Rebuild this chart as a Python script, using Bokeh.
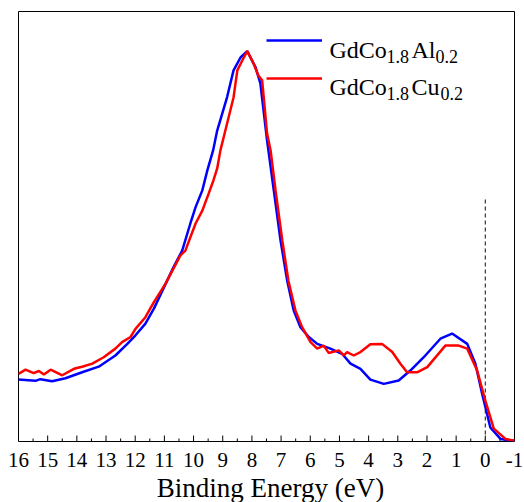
from bokeh.plotting import figure
from bokeh.models import Range1d, Legend, LegendItem, Label
from bokeh.layouts import column
from bokeh.embed import file_html
from bokeh.resources import INLINE

# Binding energy (eV) and intensity (a.u.)
al_energy = [16.0, 15.42, 15.25, 14.85, 14.39, 13.82, 13.25, 12.68, 12.27, 11.99, 11.65, 11.36,
             10.69, 10.39, 10.11, 9.93, 9.70, 9.53, 9.33, 9.19, 8.85, 8.63, 8.39, 8.16,
             7.88, 7.71, 7.48, 7.25, 7.02, 6.79, 6.57, 6.34, 6.05, 5.76, 5.31, 4.91, 4.62,
             4.28, 3.94, 3.48, 2.97, 2.57, 2.11, 1.54, 1.14, 0.62, 0.34, 0.11, -0.17, -0.52, -1.0]
al_intensity = [14.4, 14.1, 14.5, 14.0, 14.7, 16.1, 17.4, 20.0, 22.7, 24.7, 27.4, 30.9,
                40.5, 44.4, 50.7, 54.5, 58.4, 63.0, 67.7, 72.3, 80.1, 86.3, 89.3, 90.8,
                87.1, 83.3, 70.0, 58.4, 46.8, 37.4, 30.5, 26.6, 24.3, 22.7, 21.6, 20.4, 18.1,
                16.9, 14.4, 13.4, 14.2, 16.5, 19.6, 23.9, 25.1, 22.7, 18.1, 11.1, 3.3, 0.6, 0.1]

cu_energy = [16.0, 15.76, 15.48, 15.30, 15.13, 14.90, 14.50, 14.10, 13.82, 13.47, 13.08, 12.68,
             12.45, 12.16, 11.99, 11.65, 11.36, 10.96, 10.45, 10.28, 10.11, 9.93, 9.70, 9.48,
             9.32, 9.19, 9.08, 8.97, 8.63, 8.50, 8.33, 8.16, 7.95, 7.78, 7.65, 7.48, 7.36,
             7.19, 6.96, 6.75, 6.51, 6.28, 5.99, 5.76, 5.54, 5.37, 5.02, 4.85, 4.74, 4.51,
             4.28, 3.94, 3.54, 3.19, 2.91, 2.68, 2.34, 1.99, 1.37, 0.91, 0.62, 0.28, 0.0,
             -0.29, -0.69, -1.0]
cu_intensity = [15.7, 16.7, 15.9, 16.4, 15.6, 16.7, 15.4, 16.9, 17.4, 18.1, 19.6, 21.6,
                23.1, 24.3, 26.2, 28.9, 32.4, 36.7, 43.3, 44.4, 47.5, 50.7, 53.7, 57.7,
                60.7, 63.5, 67.7, 70.7, 80.0, 86.3, 88.6, 90.8, 88.0, 85.1, 84.0, 71.6, 67.7,
                58.4, 46.8, 37.4, 30.5, 26.6, 23.1, 21.6, 22.3, 20.6, 21.2, 20.0, 20.8, 20.0,
                20.8, 22.6, 22.7, 20.8, 18.1, 16.1, 16.1, 17.3, 22.3, 22.3, 21.6, 16.5, 9.5,
                3.0, 0.6, 0.2]

tick_values = list(range(16, -2, -1))
tick_labels = [str(v) for v in tick_values]   # plain hyphen for "-1"
minor_tick_values = [v - 0.5 for v in tick_values[:-1]]
x_title = "Binding Energy (eV)"

fermi_level = 0.0
fermi_line_top = 56.7

SERIF = "Liberation Serif"
X_START, X_END = 16, -1
Y_MAX = 100
LEFT, RIGHT, FRAME_W, FRAME_H = 18, 10, 496, 430
MAJOR_TICK_PX, MINOR_TICK_PX = 6, 3

# ---------------- main plot ----------------
p = figure(width=524, height=442, output_backend="svg", toolbar_location=None, title=None,
           x_range=Range1d(X_START, X_END), y_range=Range1d(0, Y_MAX),
           x_axis_location=None, y_axis_location=None,
           min_border_left=LEFT, min_border_right=RIGHT, min_border_top=11, min_border_bottom=1)
p.frame_align = False
p.background_fill_color = "white"
p.border_fill_color = "white"
p.outline_line_color = "black"
p.outline_line_width = 1
p.xgrid.visible = False
p.ygrid.visible = False

# inward tick marks at the energy ticks (major at integers, minor at halves)
px_to_y = Y_MAX / FRAME_H
p.segment(x0=tick_values, y0=[0] * len(tick_values), x1=tick_values,
          y1=[MAJOR_TICK_PX * px_to_y] * len(tick_values), line_color="black", line_width=1)
p.segment(x0=minor_tick_values, y0=[0] * len(minor_tick_values), x1=minor_tick_values,
          y1=[MINOR_TICK_PX * px_to_y] * len(minor_tick_values), line_color="black", line_width=1)

p.segment(x0=[fermi_level], y0=[0], x1=[fermi_level], y1=[fermi_line_top],
          line_color="#333333", line_width=1.2, line_dash="4 3")

r_al = p.line(al_energy, al_intensity, line_color="#0000FF", line_width=2.5)
r_cu = p.line(cu_energy, cu_intensity, line_color="#FF0000", line_width=2.5)

legend = Legend(items=[LegendItem(label=" ", renderers=[r_al]),
                       LegendItem(label=" ", renderers=[r_cu])],
                location=(248, 353), orientation="vertical",
                glyph_width=56, glyph_height=20, label_height=20, label_width=1,
                label_text_font_size="8px", label_standoff=0, spacing=18,
                padding=0, margin=0, border_line_color=None,
                background_fill_alpha=0)
p.add_layout(legend)

def add_text(fig, txt, x, y, size, align="left", x_units="screen"):
    fig.add_layout(Label(x=x, y=y, x_units=x_units, y_units="screen", text=txt,
                         text_font=SERIF, text_font_size=size, text_color="black",
                         text_baseline="alphabetic", text_align=align))

add_text(p, "GdCo", 311, 392, "24px")
add_text(p, "1.8", 368, 385, "18px")
add_text(p, "Al", 393, 392, "24px")
add_text(p, "0.2", 417, 385, "18px")
add_text(p, "GdCo", 311, 355, "24px")
add_text(p, "1.8", 368, 348, "18px")
add_text(p, "Cu", 393, 355, "24px")
add_text(p, "0.2", 422, 348, "18px")

# ---------------- axis text strip (same energy scale) ----------------
eV_per_px = (X_START - X_END) / FRAME_W
p2 = figure(width=524, height=60, output_backend="svg", toolbar_location=None, title=None,
            x_range=Range1d(X_START + LEFT * eV_per_px, X_END - RIGHT * eV_per_px),
            y_range=Range1d(0, 60), x_axis_location=None, y_axis_location=None,
            min_border_left=0, min_border_right=0, min_border_top=0, min_border_bottom=0)
p2.frame_align = False
p2.outline_line_color = None
p2.xgrid.visible = False
p2.ygrid.visible = False
p2.background_fill_color = "white"
p2.border_fill_color = "white"

for v, s in zip(tick_values, tick_labels):
    add_text(p2, s, v, 43, "21px", align="center", x_units="data")
add_text(p2, x_title, 270, 15, "27px", align="center")

layout = column(p, p2, spacing=0)
open("out.html", "w").write(file_html(layout, INLINE))
